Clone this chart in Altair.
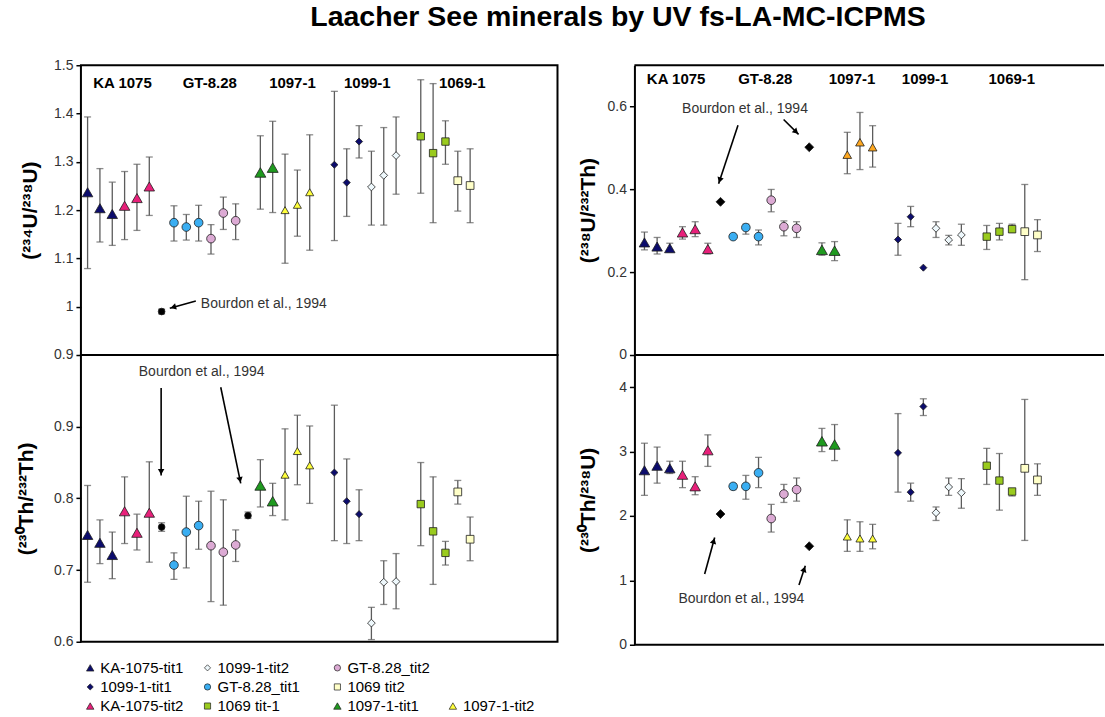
import math

import altair as alt
import pandas as pd

FONT = "Liberation Sans"

# ---------------------------------------------------------------------------
# Sample positions along the x axis (one slot per analysis) and series names
# ---------------------------------------------------------------------------
SLOT = [0, 1, 2, 3, 4, 5, 6, 7, 8, 9, 10, 11, 12, 13, 14, 15, 16, 17, 18,
        20, 21, 22, 23, 24, 25, 27, 28, 29, 30, 31]
BOURDON = "Bourdon et al., 1994"
SERIES = (["KA-1075-tit1"] * 3 + ["KA-1075-tit2"] * 3 + [BOURDON]
          + ["GT-8.28_tit1"] * 3 + ["GT-8.28_tit2"] * 3 + [BOURDON]
          + ["1097-1-tit1"] * 2 + ["1097-1-tit2"] * 3 + ["1099-1-tit1"] * 3
          + ["1099-1-tit2"] * 3 + ["1069 tit-1"] * 3 + ["1069 tit2"] * 2)

# (234U/238U) activity ratios with 2-sigma limits
U234_U238 = [1.237, 1.204, 1.192, 1.209, 1.225, 1.249, 0.990, 1.174, 1.165, 1.174,
             1.141, 1.194, 1.178, None, 1.278, 1.288, 1.200, 1.211, 1.237,
             1.294, 1.257, 1.342, 1.248, 1.272, 1.313, 1.353, 1.318, 1.342, 1.261, 1.251]
U234_U238_HI = [1.393, 1.286, 1.258, 1.280, 1.295, 1.310, 0.995, 1.209, 1.191, 1.210,
                1.170, 1.227, 1.213, None, 1.354, 1.384, 1.316, 1.283, 1.356,
                1.446, 1.327, 1.375, 1.322, 1.371, 1.393, 1.470, 1.462, 1.385, 1.322, 1.327]
U234_U238_LO = [1.079, 1.134, 1.127, 1.139, 1.158, 1.189, 0.985, 1.136, 1.138, 1.136,
                1.109, 1.160, 1.139, None, 1.202, 1.195, 1.090, 1.146, 1.117,
                1.137, 1.187, 1.308, 1.169, 1.169, 1.233, 1.235, 1.174, 1.295, 1.198, 1.174]

# (230Th/232Th)
TH230_TH232 = [0.749, 0.738, 0.721, 0.782, 0.752, 0.780, 0.760, 0.707, 0.753, 0.762,
               0.734, 0.725, 0.735, 0.776, 0.818, 0.796, 0.833, 0.866, 0.846,
               0.836, 0.796, 0.778, 0.626, 0.683, 0.684, 0.792, 0.754, 0.724, 0.809, 0.743]
TH230_TH232_HI = [0.818, 0.770, 0.753, 0.830, 0.778, 0.851, 0.766, 0.724, 0.803, 0.796,
                  0.810, 0.798, 0.756, 0.781, 0.854, 0.821, 0.897, 0.916, 0.901,
                  0.930, 0.855, 0.812, 0.648, 0.713, 0.723, 0.850, 0.830, 0.740, 0.825, 0.774]
TH230_TH232_LO = [0.683, 0.709, 0.688, 0.737, 0.728, 0.711, 0.754, 0.687, 0.703, 0.729,
                  0.656, 0.651, 0.712, 0.772, 0.788, 0.776, 0.770, 0.819, 0.793,
                  0.741, 0.737, 0.741, 0.603, 0.652, 0.646, 0.734, 0.680, 0.707, 0.792, 0.713]

# (238U/232Th)
U238_TH232 = [0.272, 0.262, 0.258, 0.296, 0.304, 0.256, 0.370, 0.286, 0.308, 0.286,
              0.374, 0.310, 0.306, 0.502, 0.254, 0.252, 0.484, 0.514, 0.502,
              0.279, 0.334, 0.211, 0.306, 0.278, 0.290, 0.286, 0.298, 0.304, 0.298, 0.290]
U238_TH232_HI = [0.297, 0.284, 0.270, 0.310, 0.322, 0.270, None, None, 0.316, 0.302,
                 0.400, 0.324, 0.322, None, 0.271, 0.274, 0.538, 0.586, 0.554,
                 0.318, 0.359, None, 0.322, 0.289, 0.316, 0.313, 0.318, 0.316, 0.412, 0.327]
U238_TH232_LO = [0.254, 0.244, 0.249, 0.280, 0.286, 0.244, None, None, 0.292, 0.266,
                 0.346, 0.288, 0.284, None, 0.241, 0.228, 0.438, 0.448, 0.454,
                 0.241, 0.310, None, 0.284, 0.266, 0.265, 0.255, 0.278, 0.296, 0.182, 0.250]

# (230Th/238U)
TH230_U238 = [2.71, 2.78, 2.74, 2.64, 2.46, 3.02, 2.03, 2.46, 2.46, 2.67,
              1.96, 2.34, 2.41, 1.53, 3.16, 3.11, 1.68, 1.65, 1.65,
              2.98, 2.37, 3.70, 2.05, 2.45, 2.36, 2.78, 2.55, 2.38, 2.74, 2.56]
TH230_U238_HI = [3.13, 3.07, 2.85, 2.85, 2.61, 3.26, None, 2.50, 2.63, 2.91,
                 2.18, 2.49, 2.59, None, 3.36, 3.42, 1.94, 1.91, 1.87,
                 3.59, 2.51, 3.82, 2.14, 2.59, 2.58, 3.05, 2.97, 2.41, 3.81, 2.81]
TH230_U238_LO = [2.32, 2.51, 2.66, 2.44, 2.33, 2.77, None, 2.41, 2.26, 2.44,
                 1.75, 2.21, 2.23, None, 3.00, 2.86, 1.45, 1.45, 1.49,
                 2.37, 2.23, 3.56, 1.93, 2.32, 2.12, 2.49, 2.09, 2.31, 1.62, 2.32]

# Sample group headings
GROUPS = ["KA 1075", "GT-8.28", "1097-1", "1099-1", "1069-1"]

# ---------------------------------------------------------------------------
# Marker styles: series -> (shape, fill, size)
# ---------------------------------------------------------------------------
NAVY = "#0c0c6c"
STYLE = {
    "KA-1075-tit1": ("triangle-up", NAVY, 110),
    "KA-1075-tit2": ("triangle-up", "#e8207a", 110),
    "GT-8.28_tit1": ("circle", "#3aaef2", 75),
    "GT-8.28_tit2": ("circle", "#dcaad4", 75),
    "1097-1-tit1": ("triangle-up", "#1f9a1f", 120),
    "1097-1-tit2": ("triangle-up", "#ffff3c", 65),
    "1099-1-tit1": ("diamond", NAVY, 50),
    "1099-1-tit2": ("diamond", "#eef8fc", 60),
    "1069 tit-1": ("square", "#9acb1e", 55),
    "1069 tit2": ("square", "#ffffc8", 60),
    BOURDON: ("circle", "#000000", 45),
}
STYLE_RIGHT_TOP = dict(STYLE)
STYLE_RIGHT_TOP["1097-1-tit2"] = ("triangle-up", "#ffa820", 75)
STYLE_RIGHT_TOP[BOURDON] = ("diamond", "#000000", 80)
STYLE_RIGHT_BOTTOM = dict(STYLE)
STYLE_RIGHT_BOTTOM[BOURDON] = ("diamond", "#000000", 80)

ERR = "#5c5c5c"
AXIS_STYLE = dict(
    labelFont=FONT, labelFontSize=14, labelColor="#333333", labelPadding=3,
    tickColor="black", tickSize=5, tickWidth=1.5, grid=False,
    titleFont=FONT, titleFontSize=21, titleFontWeight="bold", titleColor="black",
    titleAngle=270, titleBaseline="middle", titleAlign="center",
)

LEFT_X = [-0.54, 38.08]
RIGHT_X = [-0.79, 36.25]


def panel(values, hi, lo, style, xdom, ydom, w, h, ticks, fmt, title, title_x,
          notes=(), arrows=(), group_pos=None, boxed=True, frame=()):
    df = pd.DataFrame({"slot": SLOT, "series": SERIES, "v": values,
                       "lo": lo, "hi": hi})
    df = df[df["v"].notna()].copy()
    df["shape"] = [style[s][0] for s in df["series"]]
    df["fill"] = [style[s][1] for s in df["series"]]
    df["size"] = [style[s][2] for s in df["series"]]
    bars = df[df["lo"].notna()]

    xs = alt.Scale(domain=xdom, nice=False, zero=False)
    ys = alt.Scale(domain=ydom, nice=False, zero=False)
    axis = alt.Axis(values=ticks, format=fmt, title=title, titleX=title_x,
                    domain=not boxed, domainColor="black", domainWidth=2,
                    **AXIS_STYLE)

    def X(f):
        return alt.X(f"{f}:Q", scale=xs, axis=None)

    def Y(f):
        return alt.Y(f"{f}:Q", scale=ys, axis=axis)

    layers = [
        alt.Chart(bars).mark_rule(color=ERR, strokeWidth=1.3).encode(
            x=X("slot"), y=Y("lo"), y2="hi:Q"),
        alt.Chart(bars).mark_tick(orient="horizontal", color=ERR, size=7,
                                  thickness=1.3).encode(x=X("slot"), y=Y("lo")),
        alt.Chart(bars).mark_tick(orient="horizontal", color=ERR, size=7,
                                  thickness=1.3).encode(x=X("slot"), y=Y("hi")),
        alt.Chart(df).mark_point(filled=True, opacity=1, stroke="#1e1e1e",
                                 strokeWidth=0.8).encode(
            x=X("slot"), y=Y("v"),
            fill=alt.Fill("fill:N", scale=None),
            shape=alt.Shape("shape:N", scale=None),
            size=alt.Size("size:Q", scale=None)),
    ]

    kx = w / (xdom[1] - xdom[0])
    ky = h / (ydom[1] - ydom[0])
    if arrows:
        rows = []
        for x1, y1, x2, y2 in arrows:
            dx, dy = (x2 - x1) * kx, -(y2 - y1) * ky
            length = math.hypot(dx, dy)
            ux, uy = dx / length, dy / length
            back = 3.6
            rows.append({"x1": x1, "y1": y1, "x2": x2, "y2": y2,
                         "hx": x2 - ux * back / kx, "hy": y2 + uy * back / ky,
                         "ang": math.degrees(math.atan2(ux, -uy)) % 360})
        adf = pd.DataFrame(rows)
        layers.append(alt.Chart(adf).mark_rule(color="black", strokeWidth=1.6).encode(
            x=X("x1"), y=Y("y1"), x2="x2:Q", y2="y2:Q"))
        layers.append(alt.Chart(adf).mark_point(shape="triangle-up", filled=True,
                                                color="black", opacity=1, size=42).encode(
            x=X("hx"), y=Y("hy"), angle=alt.Angle("ang:Q", scale=None)))
    if notes:
        ndf = pd.DataFrame(notes, columns=["x", "y", "text"])
        layers.append(alt.Chart(ndf).mark_text(
            align="left", baseline="middle", font=FONT, fontSize=14,
            color="#333333").encode(x=X("x"), y=Y("y"), text="text:N"))
    if group_pos:
        gdf = pd.DataFrame({"x": group_pos[0], "y": [group_pos[1]] * len(GROUPS),
                            "text": GROUPS})
        layers.append(alt.Chart(gdf).mark_text(
            align="center", baseline="middle", font=FONT, fontSize=15,
            fontWeight="bold", color="black").encode(
            x=X("x"), y=Y("y"), text="text:N"))
    for ypix in frame:
        layers.append(alt.Chart(pd.DataFrame({"k": [0]})).mark_rule(
            color="black", strokeWidth=2).encode(
            x=alt.value(0), x2=alt.value(w), y=alt.value(ypix)))

    chart = alt.layer(*layers).properties(width=w, height=h)
    if boxed:
        chart = chart.properties(
            view=alt.ViewBackground(stroke="black", strokeWidth=2))
    return chart


LW, RW = 477, 470
H1 = 290
H2L, H2R = 287, 290

top_left = panel(
    U234_U238, U234_U238_HI, U234_U238_LO, STYLE, LEFT_X, [0.9, 1.5], LW, H1,
    [0.9, 1.0, 1.1, 1.2, 1.3, 1.4, 1.5], ".1~f", "(²³⁴U/²³⁸U)", -50,
    notes=[(9.18, 1.005, BOURDON)],
    arrows=[(8.77, 1.012, 6.66, 0.997)],
    group_pos=([2.83, 9.9, 16.6, 22.67, 30.36], 1.463),
)
bottom_left = panel(
    TH230_TH232, TH230_TH232_HI, TH230_TH232_LO, STYLE, LEFT_X, [0.6, 1.0], LW, H2L,
    [0.6, 0.7, 0.8, 0.9], ".1~f", "(²³⁰Th/²³²Th)", -54,
    notes=[(4.15, 0.976, BOURDON)],
    arrows=[(5.96, 0.954, 5.96, 0.832), (10.79, 0.955, 12.41, 0.821)],
)
top_right = panel(
    U238_TH232, U238_TH232_HI, U238_TH232_LO, STYLE_RIGHT_TOP, RIGHT_X, [0, 0.7],
    RW, H1, [0, 0.2, 0.4, 0.6], ".1~f", "(²³⁸U/²³²Th)", -46,
    notes=[(2.97, 0.594, BOURDON)],
    arrows=[(7.38, 0.555, 5.85, 0.414), (10.98, 0.569, 12.16, 0.533)],
    group_pos=([2.5, 9.53, 16.37, 22.14, 28.98], 0.666),
    boxed=False, frame=(0,),
)
bottom_right = panel(
    TH230_U238, TH230_U238_HI, TH230_U238_LO, STYLE_RIGHT_BOTTOM, RIGHT_X, [0, 4.5],
    RW, H2R, [0, 1, 2, 3, 4], "d", "(²³⁰Th/²³⁸U)", -46,
    notes=[(2.68, 0.711, BOURDON)],
    arrows=[(4.75, 1.098, 5.54, 1.665), (12.19, 0.928, 12.69, 1.226)],
    boxed=False, frame=(0, H2R),
)

# ---------------------------------------------------------------------------
# Legend block under the left panels (three rows, up to four columns)
# ---------------------------------------------------------------------------
LEGEND_ITEMS = [
    ["KA-1075-tit1", "1099-1-tit2", "GT-8.28_tit2"],
    ["1099-1-tit1", "GT-8.28_tit1", "1069 tit2"],
    ["KA-1075-tit2", "1069 tit-1", "1097-1-tit1", "1097-1-tit2"],
]
LEGEND_COL_X = [9.3, 126.7, 256.7, 372.3]
LEGEND_SIZE = {"triangle-up": 55, "circle": 40, "diamond": 38, "square": 38}
leg_rows = []
for r, items in enumerate(LEGEND_ITEMS):
    for c, name in enumerate(items):
        shape, fill, _ = STYLE[name]
        leg_rows.append({"row": r, "mx": LEGEND_COL_X[c], "tx": LEGEND_COL_X[c] + 10,
                         "name": name, "shape": shape, "fill": fill,
                         "size": LEGEND_SIZE[shape]})
leg = pd.DataFrame(leg_rows)
lx = alt.Scale(domain=[0, LW], nice=False, zero=False)
# the top of this block doubles as the gap below the lower-left panel
ly = alt.Scale(domain=[-1.21, 2.4], nice=False, zero=False, reverse=True)
legend = alt.layer(
    alt.Chart(leg).mark_point(filled=True, opacity=1, stroke="#1e1e1e",
                              strokeWidth=0.7).encode(
        x=alt.X("mx:Q", scale=lx, axis=None),
        y=alt.Y("row:Q", scale=ly, axis=None),
        fill=alt.Fill("fill:N", scale=None),
        shape=alt.Shape("shape:N", scale=None),
        size=alt.Size("size:Q", scale=None)),
    alt.Chart(leg).mark_text(align="left", baseline="middle", font=FONT,
                             fontSize=15, color="black").encode(
        x=alt.X("tx:Q", scale=lx, axis=None),
        y=alt.Y("row:Q", scale=ly, axis=None),
        text="name:N"),
).properties(width=LW, height=69)

chart = alt.concat(
    top_left, top_right, bottom_left, bottom_right, legend,
    columns=2, bounds="flush", spacing={"row": 0, "column": 77},
).properties(
    title=alt.TitleParams("Laacher See minerals by UV fs-LA-MC-ICPMS",
                          font=FONT, fontSize=28.5, fontWeight="bold",
                          color="black", anchor="middle", dx=58, offset=26),
    padding={"left": 15, "top": 2, "right": 0, "bottom": 0},
).configure(font=FONT).configure_view(strokeWidth=0)

chart.save("out.html", embed_options={"renderer": "svg", "actions": False})
